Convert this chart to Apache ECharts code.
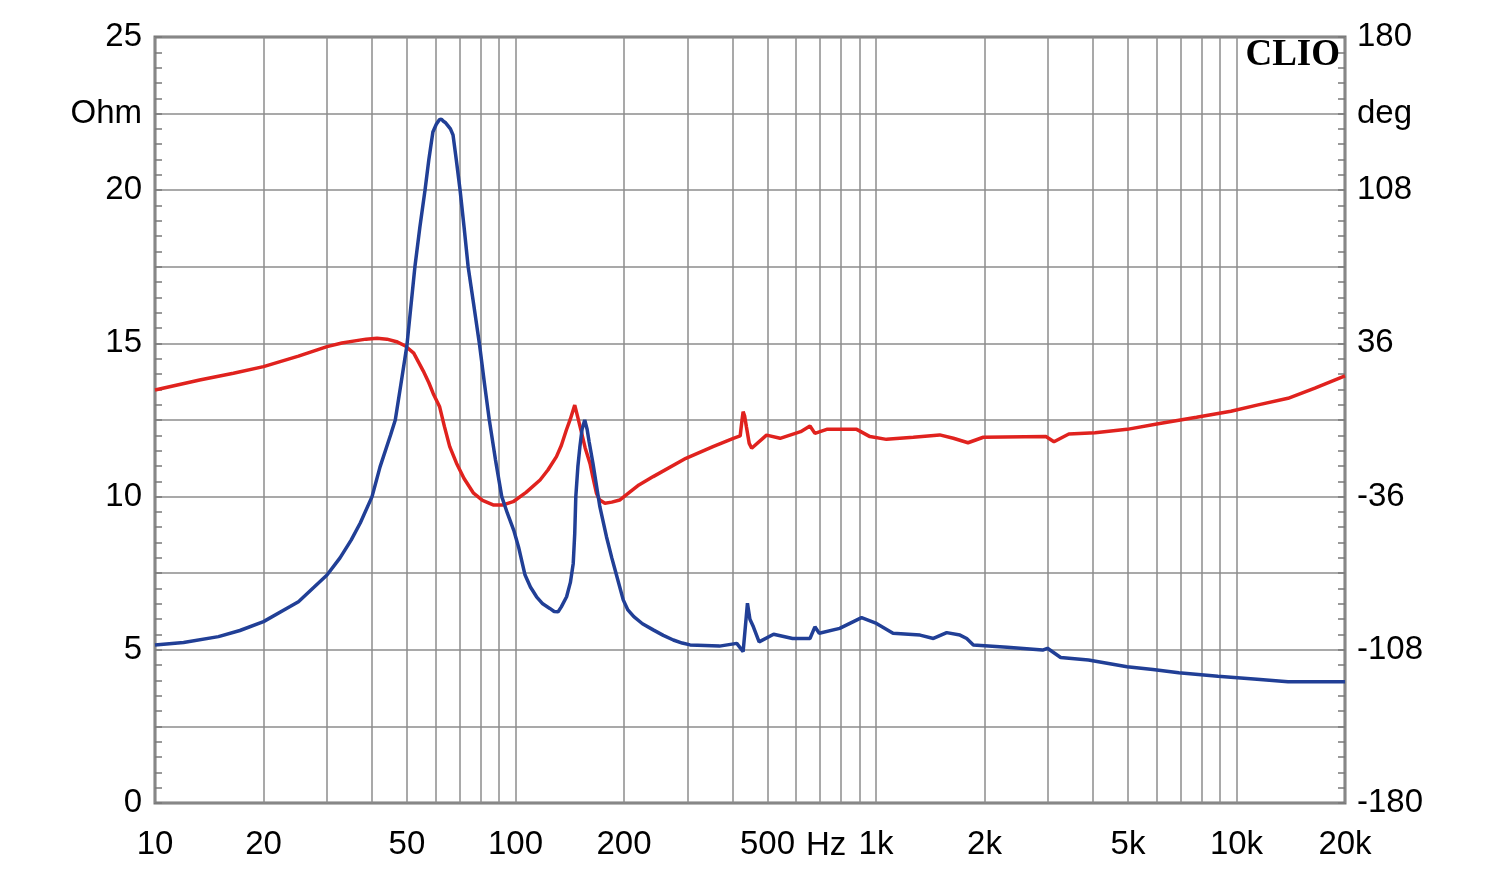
<!DOCTYPE html>
<html><head><meta charset="utf-8">
<script src="https://cdn.jsdelivr.net/npm/echarts@6/dist/echarts.min.js"></script>
<style>html,body{margin:0;padding:0;background:#fff}#c{width:1500px;height:877px}</style>
</head><body><div id="c"></div>
<script>
// Impedance magnitude (Ohm) vs frequency (Hz)
const impFreq = [10,12,15,17.2,20,23.7,25,30,32.6,35,37.1,40,42.1,45,46.4,48,50,52.6,54.3,56.1,57.5,59.0,60.3,61.5,62.3,63.1,64,65,66,67.1,68.5,70.2,72,73.9,76.5,79.5,82,84.6,88,91.6,95,98.9,102,106.3,110,114.4,119,124.5,128,131.3,134,138.6,142,144.6,146,147,149,150.9,153,155.6,158,160,164,171.4,178.8,185,190.6,199,205,212.9,225,241,257,274,290,305,368,411,428,433,440,447,457,474,520,587,656,677,696,793,912,1003,1115,1325,1443,1571,1710,1785,1862,2313,2900,2990,3253,3885,4972,5862,6917,8879,11400,13900,20000];
const impOhm  = [5.16,5.24,5.43,5.63,5.92,6.41,6.57,7.44,8.0,8.58,9.14,10.0,10.97,12.0,12.5,13.6,14.95,17.5,18.8,20.0,21.0,21.9,22.15,22.3,22.32,22.25,22.2,22.1,22.0,21.8,21.0,20.0,18.8,17.5,16.3,14.95,13.7,12.5,11.2,10.0,9.45,8.9,8.35,7.44,7.05,6.73,6.5,6.35,6.25,6.24,6.4,6.73,7.2,7.82,8.8,10.0,11.0,11.63,12.2,12.5,12.2,11.8,11.09,9.67,8.69,8.0,7.44,6.63,6.3,6.08,5.85,5.65,5.47,5.32,5.22,5.16,5.12,5.21,4.94,5.6,6.52,6.0,5.75,5.26,5.51,5.37,5.37,5.75,5.54,5.70,6.05,5.86,5.54,5.48,5.37,5.56,5.48,5.37,5.16,5.08,4.99,5.05,4.75,4.67,4.45,4.36,4.25,4.14,4.04,3.96,3.96];
// Impedance phase (deg) vs frequency (Hz)
const phaseFreq = [10,13.3,16.5,20,25,30,33,36.2,38.5,41.3,44,46.8,49.5,52.2,55.5,57.5,59.1,61.6,63.5,65.7,68.6,72,76.5,81,86.7,92,98.5,107,117,123,129.9,134,138.4,142,146,149,152,156,161,164,167.7,171,177,185,194.5,207,220,241,297,353,402,420,425,428,432,437,445,452,497,542,618,656,677,730,884,962,1069,1269,1502,1639,1800,1985,2960,3117,3427,4055,4972,6120,7749,9650,11400,13900,16500,20000];
const phaseDeg  = [14.1,18.8,22.0,25.1,30.0,34.5,36.2,37.3,38.0,38.4,38.0,36.8,34.8,31.4,23,17.5,12.5,6.2,-3,-12.5,-20.3,-27.5,-34.4,-37.8,-39.9,-40.0,-38.4,-34,-28.2,-23.5,-17.2,-12,-4.7,0.5,7.0,1,-5,-13,-20.5,-27,-34.4,-37.5,-39.1,-38.6,-37.6,-34,-30.5,-26.6,-18.0,-12.5,-8.6,-7.5,0,3.9,2,-3.1,-11,-13.3,-7.1,-8.6,-5.5,-2.8,-6.3,-4.4,-4.4,-7.8,-9.1,-8.1,-7.0,-8.6,-10.7,-8.1,-7.8,-10.2,-6.6,-6.0,-4.4,-1.6,1.3,4.1,7.0,10.2,15,20.7];
// Axis ticks / labels
const gridFreqs = [10,20,30,40,50,60,70,80,90,100,200,300,400,500,600,700,800,900,1000,2000,3000,4000,5000,6000,7000,8000,9000,10000,20000];
const xLabelFreqs = [10,20,50,100,200,500,1000,2000,5000,10000,20000];
const xLabelTexts = ['10','20','50','100','200','500','1k','2k','5k','10k','20k'];
const leftLabelValues = [0,5,10,15,20,22.5,25];
const leftLabelTexts = ['0','5','10','15','20','Ohm','25'];
const rightLabelValues = [-180,-108,-36,36,108,144,180];
const rightLabelTexts = ['-180','-108','-36','36','108','deg','180'];

const L = Math.log10;
const xMin = L(10), xMax = L(20000);
const impData = impFreq.map((f,i)=>[L(f), impOhm[i]]);
const phData = phaseFreq.map((f,i)=>[L(f), phaseDeg[i]]);

function lookup(vals, texts, v){
  for (let i=0;i<vals.length;i++) if (Math.abs(vals[i]-v)<1e-6) return texts[i];
  return '';
}
const font = '"Liberation Sans", Arial, sans-serif';
const gridColor = '#8c8c8c';
const fs = 33;

const chart = echarts.init(document.getElementById('c'), null, {renderer:'canvas'});
chart.setOption({
  backgroundColor:'#ffffff',
  animation:false,
  grid:{left:155,right:155,top:37,bottom:74,show:true,borderColor:'#777777',borderWidth:3,backgroundColor:'transparent'},
  xAxis:{
    type:'value', min:xMin, max:xMax,
    axisLine:{show:false},
    axisTick:{show:false, customValues: gridFreqs.map(L)},
    splitLine:{show:true, lineStyle:{color:gridColor,width:1.5}},
    axisLabel:{
      customValues: xLabelFreqs.map(L),
      margin:25, color:'#000', fontSize:fs, fontFamily:font,
      showMinLabel:true, showMaxLabel:true,
      formatter:v=>{ const f=Math.pow(10,v); for(let i=0;i<xLabelFreqs.length;i++){ if(Math.abs(xLabelFreqs[i]-f)/f<1e-6) return xLabelTexts[i]; } return ''; }
    }
  },
  yAxis:[
    {type:'value', min:0, max:25, interval:2.5, position:'left',
     axisLine:{show:false},
     axisTick:{show:true, inside:true, length:7, lineStyle:{color:'#7a7a7a',width:1.5}},
     minorTick:{show:true, splitNumber:5, length:7, lineStyle:{color:'#7a7a7a',width:1.5}},
     splitLine:{show:true, lineStyle:{color:gridColor,width:1.5}},
     axisLabel:{margin:13, color:'#000', fontSize:fs, fontFamily:font, formatter:v=>lookup(leftLabelValues,leftLabelTexts,v)}
    },
    {type:'value', min:-180, max:180, interval:36, position:'right',
     axisLine:{show:false},
     axisTick:{show:true, inside:true, length:7, lineStyle:{color:'#7a7a7a',width:1.5}},
     minorTick:{show:true, splitNumber:5, length:7, lineStyle:{color:'#7a7a7a',width:1.5}},
     splitLine:{show:false},
     axisLabel:{margin:12, color:'#000', fontSize:fs, fontFamily:font, formatter:v=>lookup(rightLabelValues,rightLabelTexts,v)}
    }
  ],
  series:[
    {type:'line', name:'Phase', yAxisIndex:1, data:phData, symbol:'none', smooth:false,
     lineStyle:{color:'#e0221e', width:3.5}, z:3},
    {type:'line', name:'Impedance', yAxisIndex:0, data:impData, symbol:'none', smooth:false,
     lineStyle:{color:'#213f96', width:3.5}, z:4}
  ],
  graphic:[
    {type:'text', right:160, top:37, style:{text:'CLIO', font:'bold 37px "Liberation Serif", "Times New Roman", serif', fill:'#000'}, z:10},
    {type:'text', left:806, top:829, style:{text:'Hz', font:fs+'px "Liberation Sans", Arial, sans-serif', fill:'#000'}, z:10}
  ]
});
</script>
</body></html>
